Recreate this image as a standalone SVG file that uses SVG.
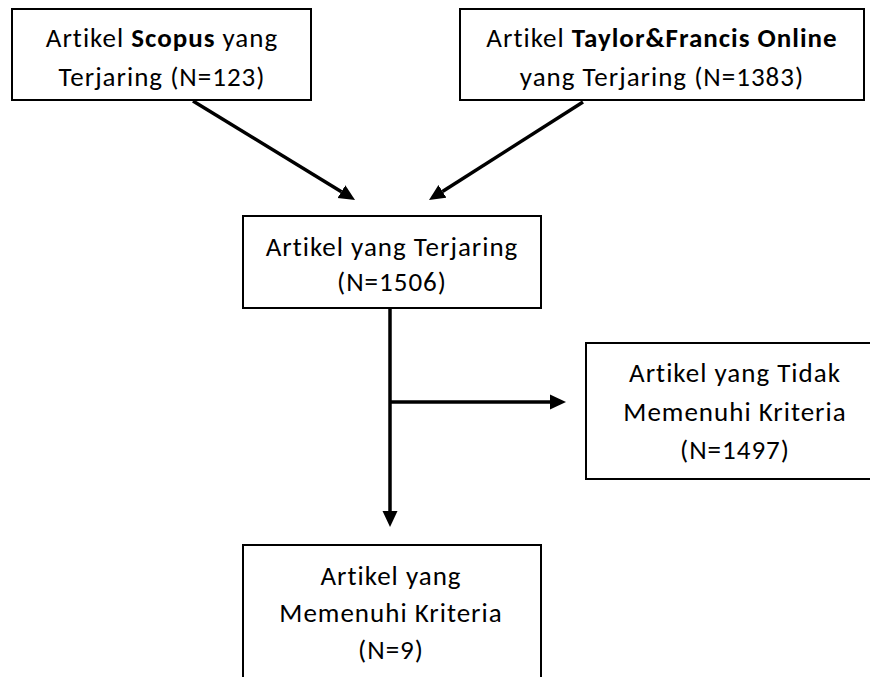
<svg xmlns="http://www.w3.org/2000/svg" width="870" height="677" viewBox="0 0 870 677">
  <style>
    .box { fill: #ffffff; stroke: #000000; stroke-width: 2; }
    .lbl { font-family: Carlito, Lato, "Liberation Sans", sans-serif; font-size: 27px; letter-spacing: 1px; fill: #000000; text-anchor: middle; }
    .b { font-weight: bold; }
    .conn { stroke: #000000; stroke-width: 3.5; fill: none; }
  </style>
  <defs>
    <marker id="arrow" markerUnits="userSpaceOnUse" markerWidth="16" markerHeight="16" refX="0" refY="7.5" orient="auto" viewBox="0 0 16 15">
      <path d="M0,0 L16,7.5 L0,15 z" fill="#000000"/>
    </marker>
  </defs>
  <rect width="870" height="677" fill="#ffffff"/>

  <g id="connectors">
    <line class="conn" x1="193" y1="101" x2="341.4" y2="191.7" marker-end="url(#arrow)"/>
    <line class="conn" x1="583" y1="102" x2="442.5" y2="191.4" marker-end="url(#arrow)"/>
    <line class="conn" x1="390" y1="308" x2="390" y2="511" marker-end="url(#arrow)"/>
    <line class="conn" x1="390" y1="402" x2="550" y2="402" marker-end="url(#arrow)"/>
  </g>

  <g id="scopus">
    <rect class="box" x="12" y="9" width="299" height="91"/>
    <text class="lbl" x="162" y="47">Artikel <tspan class="b">Scopus</tspan> yang</text>
    <text class="lbl" x="162" y="86">Terjaring (N=123)</text>
  </g>

  <g id="tandf">
    <rect class="box" x="460" y="9" width="404" height="91"/>
    <text class="lbl" x="662" y="47">Artikel <tspan class="b">Taylor&amp;Francis Online</tspan></text>
    <text class="lbl" x="662" y="86">yang Terjaring (N=1383)</text>
  </g>

  <g id="terjaring">
    <rect class="box" x="243" y="216" width="298" height="92"/>
    <text class="lbl" x="392" y="256">Artikel yang Terjaring</text>
    <text class="lbl" x="392" y="291">(N=1506)</text>
  </g>

  <g id="tidak">
    <rect class="box" x="586" y="343" width="300" height="136"/>
    <text class="lbl" x="735" y="382">Artikel yang Tidak</text>
    <text class="lbl" x="735" y="421">Memenuhi Kriteria</text>
    <text class="lbl" x="735" y="459">(N=1497)</text>
  </g>

  <g id="memenuhi">
    <rect class="box" x="243" y="545" width="298" height="150"/>
    <text class="lbl" x="391" y="585">Artikel yang</text>
    <text class="lbl" x="391" y="622">Memenuhi Kriteria</text>
    <text class="lbl" x="391" y="659">(N=9)</text>
  </g>
</svg>
